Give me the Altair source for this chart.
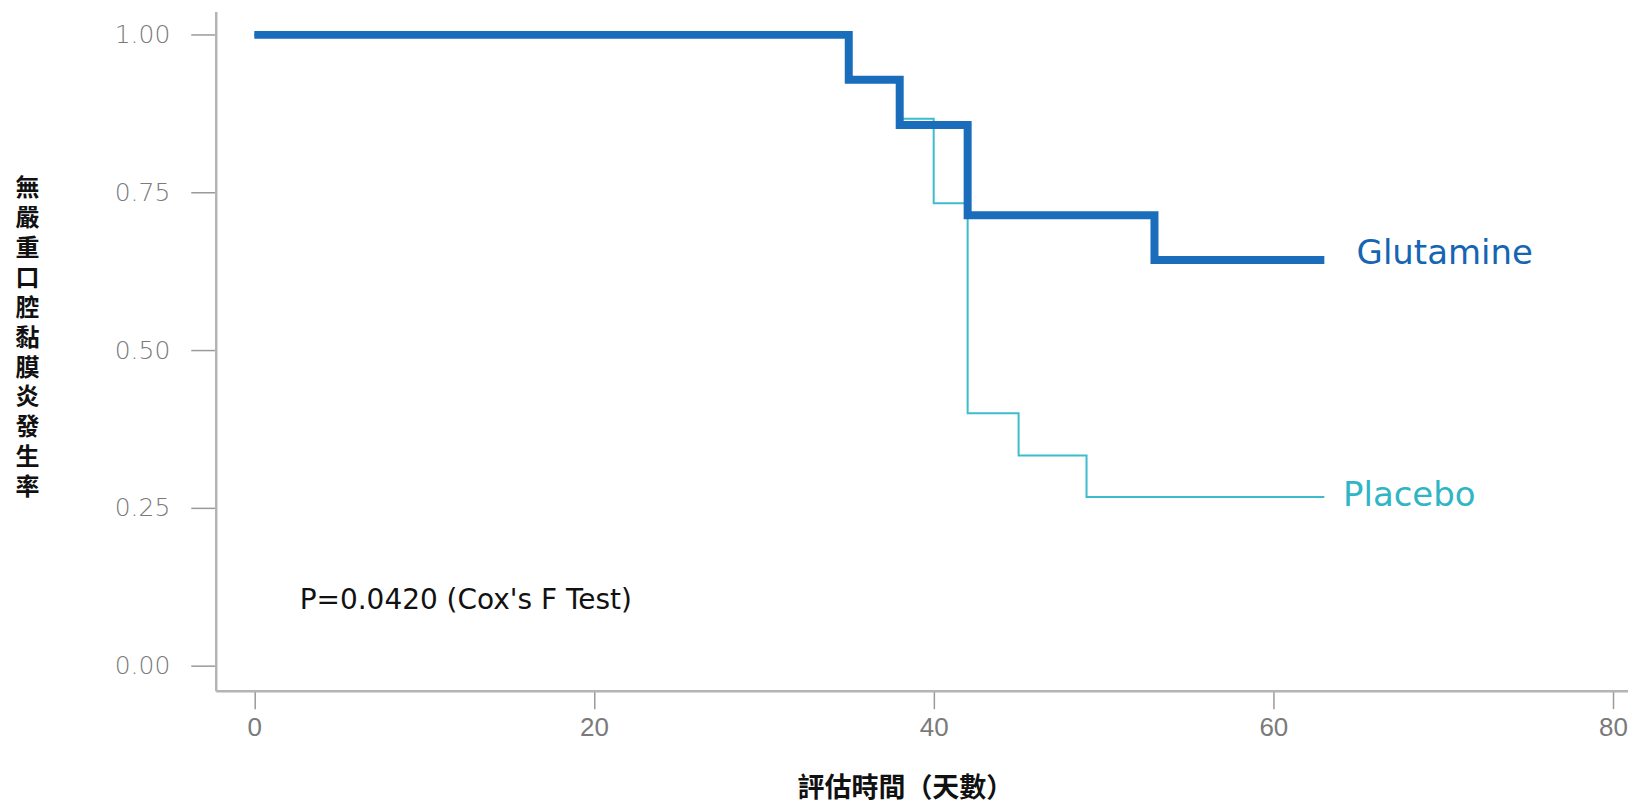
import altair as alt
import pandas as pd

# ---- data ----
glu_days = [0, 35, 38, 42, 53, 63]
glu_surv = [1.0, 0.929, 0.857, 0.714, 0.643, 0.643]

pla_days = [0, 35, 38, 40, 42, 45, 49, 63]
pla_surv = [1.0, 0.933, 0.867, 0.733, 0.400, 0.333, 0.267, 0.267]

x_ticks = [0, 20, 40, 60, 80]
y_ticks = [0.0, 0.25, 0.50, 0.75, 1.00]

label_names = ["Glutamine", "Placebo"]
label_x = [64.9, 64.1]
label_y = [0.653, 0.268]

annot_text = ["P=0.0420 (Cox's F Test)"]
annot_x = [2.67]
annot_y = [0.102]

y_title = "無嚴重口腔黏膜炎發生率"
x_title = "評估時間（天數）"

GLU_COLOR = "#1a6dbb"
GLU_TEXT = "#1565b3"
PLA_COLOR = "#3dbdcc"
PLA_TEXT = "#2fb5c6"

glu = pd.DataFrame({"t": glu_days, "s": glu_surv})
pla = pd.DataFrame({"t": pla_days, "s": pla_surv})
lab = pd.DataFrame({"t": label_x, "s": label_y, "name": label_names})
ann = pd.DataFrame({"t": annot_x, "s": annot_y, "txt": annot_text})

X = alt.X(
    "t:Q",
    scale=alt.Scale(domain=[-2.27, 80.88], nice=False, zero=False),
    axis=alt.Axis(
        values=x_ticks, format="d", title=x_title, grid=False,
        labelFont="Liberation Sans", labelFontSize=26, labelColor="#7a7a7a",
        labelPadding=6, tickSize=18, tickColor="#9a9a9a", tickWidth=1.5,
        domainColor="#b4b4b4", domainWidth=2.5,
        titleFont="Noto Sans CJK TC", titleFontSize=27, titleFontWeight="bold",
        titleColor="#111111", titleX=690, titleY=98, titleAlign="center",
        titleBaseline="middle", titleAnchor="start",
    ),
)
Y = alt.Y(
    "s:Q",
    scale=alt.Scale(domain=[-0.0401, 1.0371], nice=False, zero=False),
    axis=alt.Axis(
        values=y_ticks, format=".2f", title=list(y_title), grid=False,
        labelFont="DejaVu Sans", labelFontSize=25, labelFontWeight=300,
        labelColor="#7a7a7a", labelPadding=21, tickSize=25,
        tickColor="#9a9a9a", tickWidth=1.5,
        domainColor="#b4b4b4", domainWidth=2.5,
        titleFont="Noto Sans CJK TC", titleFontSize=24, titleFontWeight="bold",
        titleColor="#111111", titleAngle=0, titleX=-189, titleY=165,
        titleAlign="center", titleBaseline="top", titleLineHeight=30,
        titleAnchor="start",
    ),
)

pla_line = alt.Chart(pla).mark_line(
    interpolate="step-after", color=PLA_COLOR, strokeWidth=2
).encode(x=X, y=Y)

glu_line = alt.Chart(glu).mark_line(
    interpolate="step-after", color=GLU_COLOR, strokeWidth=8,
    strokeJoin="miter", strokeCap="butt"
).encode(x=X, y=Y)

labels = alt.Chart(lab).mark_text(
    align="left", baseline="middle", font="DejaVu Sans", fontSize=34
).encode(
    x=X, y=Y, text="name:N",
    color=alt.Color("name:N", scale=alt.Scale(domain=label_names, range=[GLU_TEXT, PLA_TEXT]), legend=None),
)

annot = alt.Chart(ann).mark_text(
    align="left", baseline="middle", font="DejaVu Sans", fontSize=28, color="#111111"
).encode(x=X, y=Y, text="txt:N")

chart = alt.layer(pla_line, glu_line, labels, annot).properties(
    width=1414, height=680,
    autosize=alt.AutoSizeParams(type="none"),
    padding={"left": 208, "top": 3, "right": 0, "bottom": 115},
).configure(background="white").configure_view(stroke=None)

chart.save("out.html", embed_options={"renderer": "svg", "actions": False})
